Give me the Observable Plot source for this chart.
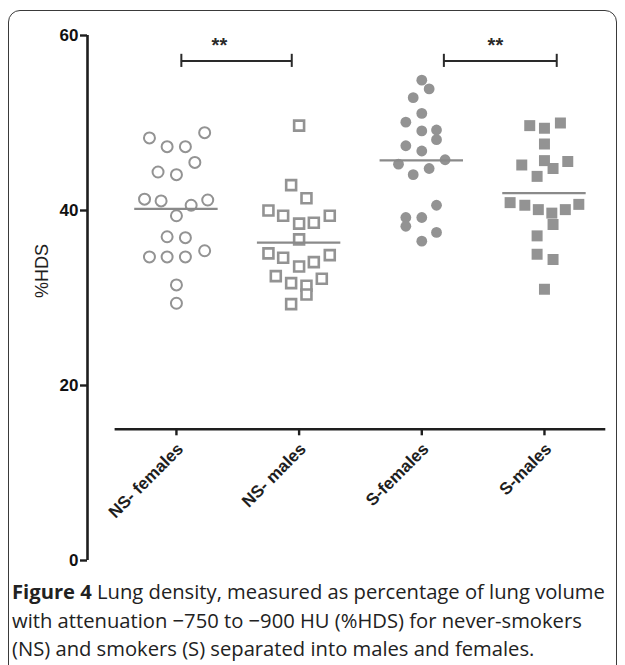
<!DOCTYPE html>
<html>
<head>
<meta charset="utf-8">
<script src="https://cdn.jsdelivr.net/npm/d3@7"></script>
<script src="https://cdn.jsdelivr.net/npm/@observablehq/plot@0.6"></script>
<style>
  html, body { margin: 0; padding: 0; background: #fff; }
  #frame { position: absolute; left: 8px; top: 10px; width: 609px; height: 720px;
           border: 1.5px solid #3a3a3a; border-radius: 12px; box-sizing: border-box; }
  #chart { position: absolute; left: 0; top: 0; }
  #caption { position: absolute; left: 12px; top: 577px; width: 604px; white-space: nowrap;
             font-family: "Open Sans", Lato, sans-serif; font-size: 20.2px; line-height: 28.5px; color: #222; }
  #caption b { font-weight: 700; }
</style>
</head>
<body>
<div id="frame"></div>
<div id="chart"></div>
<div id="caption"><b>Figure 4</b> Lung density, measured as percentage of lung volume<br>with attenuation &minus;750 to &minus;900 HU (%HDS) for never-smokers<br>(NS) and smokers (S) separated into males and females.</div>
<script>
// ---- data ----
const categories = ["NS- females", "NS- males", "S-females", "S-males"];
const yTicks = [0, 20, 40, 60];
const yLabel = "%HDS";

const nsFemales = [48.9, 48.3, 47.3, 47.3, 45.5, 44.4, 44.1, 41.3, 41.1, 40.6, 41.2, 39.4, 37.0, 36.9, 34.7, 34.7, 34.7, 35.4, 31.5, 29.4];
const nsFemalesJitter = [0.23, -0.22, -0.076, 0.073, 0.15, -0.15, 0, -0.26, -0.125, 0.12, 0.255, 0, -0.076, 0.073, -0.22, -0.076, 0.073, 0.23, 0, 0];

const nsMales = [49.7, 42.9, 41.4, 40.0, 39.4, 38.5, 38.6, 39.4, 36.7, 35.1, 34.6, 33.6, 34.1, 34.9, 32.5, 31.7, 31.4, 32.2, 30.4, 29.3];
const nsMalesJitter = [0, -0.065, 0.06, -0.25, -0.13, 0, 0.12, 0.25, 0, -0.25, -0.13, 0, 0.12, 0.25, -0.19, -0.065, 0.06, 0.185, 0.06, -0.065];

const sFemales = [54.9, 53.9, 52.9, 51.1, 50.1, 49.1, 49.2, 48.1, 47.4, 46.8, 45.3, 45.8, 44.1, 44.8, 40.6, 39.2, 39.2, 38.2, 37.5, 36.5];
const sFemalesJitter = [0, 0.06, -0.07, 0, -0.13, 0, 0.12, 0.12, -0.13, 0, -0.19, 0.19, -0.07, 0.06, 0.12, -0.13, 0, -0.13, 0.12, 0];

const sMales = [49.7, 49.4, 50.0, 47.6, 45.2, 45.7, 44.8, 45.6, 43.9, 40.9, 40.6, 40.1, 39.7, 40.1, 40.7, 38.4, 37.1, 35.0, 34.4, 31.0];
const sMalesJitter = [-0.12, 0, 0.13, 0, -0.185, 0, 0.07, 0.19, -0.06, -0.28, -0.16, -0.05, 0.06, 0.17, 0.28, 0.07, -0.06, -0.06, 0.07, 0];

// significance comparisons: bracket span (in category units) and label
const sigLabels = ["**", "**"];
const sigFrom = [0.04, 2.18];
const sigTo = [0.94, 3.10];
const sigLabelAt = [0.35, 2.6];
const sigLevel = 57.1;

// ---- build tables ----
const groups = [nsFemales, nsMales, sFemales, sMales];
const jitters = [nsFemalesJitter, nsMalesJitter, sFemalesJitter, sMalesJitter];
const points = groups.flatMap((vals, g) => vals.map((v, i) => ({g, x: g + jitters[g][i], y: v})));
const means = groups.map((vals, g) => ({g, mean: d3.mean(vals)}));
const sig = sigLabels.map((s, i) => ({label: s, x1: sigFrom[i], x2: sigTo[i], xl: sigLabelAt[i]}));

const ink = "#1e1e1e";
const gray = "#939393";
const axisY0 = 15; // value where the category axis sits
const xMin = -0.725;

const byGroup = g => points.filter(d => d.g === g);

const chart = Plot.plot({
  width: 625,
  height: 576,
  marginLeft: 87,
  marginRight: 19.7,
  marginTop: 35,
  marginBottom: 16,
  style: {fontFamily: "'Liberation Sans', Arial, sans-serif", background: "transparent"},
  x: {domain: [xMin, 3.5], axis: null},
  y: {domain: [0, 60], axis: null},
  marks: [
    // y axis line
    Plot.ruleX([xMin], {y1: 0, y2: 60, stroke: ink, strokeWidth: 2.6}),
    Plot.axisY({ticks: yTicks, tickSize: 7, tickFormat: () => "", stroke: ink, strokeWidth: 2.4, label: null}),
    Plot.text(yTicks, {x: xMin, y: d => d, text: d => String(d), textAnchor: "end", dx: -9,
                       fontSize: 17, fontWeight: 700, fill: "#111"}),
    Plot.text([yLabel], {frameAnchor: "left", rotate: -90, dx: -45, fontSize: 18, fill: ink}),
    // category axis
    Plot.ruleY([axisY0], {x1: -0.5, x2: 3.5, stroke: ink, strokeWidth: 2.6}),
    Plot.ruleX(categories, {x: (d, i) => i, y1: axisY0, y2: axisY0 - 0.75, stroke: ink, strokeWidth: 2.4}),
    Plot.text(categories, {x: (d, i) => i, y: axisY0, rotate: -45, textAnchor: "end", dx: 4, dy: 17,
                           fontSize: 17, fontWeight: "bold", fill: ink}),
    // points
    Plot.dot(byGroup(0), {x: "x", y: "y", symbol: "circle", r: 5.5, stroke: gray, strokeWidth: 2, fill: "white"}),
    Plot.dot(byGroup(1), {x: "x", y: "y", symbol: "square", r: 5.6, stroke: gray, strokeWidth: 2.6, fill: "white"}),
    Plot.dot(byGroup(2), {x: "x", y: "y", symbol: "circle", r: 5.4, fill: gray, stroke: "none"}),
    Plot.dot(byGroup(3), {x: "x", y: "y", symbol: "square", r: 6.2, fill: gray, stroke: "none"}),
    // mean lines
    Plot.ruleY(means, {y: "mean", x1: d => d.g - 0.34, x2: d => d.g + 0.34, stroke: "#8a8a8a", strokeWidth: 2.2}),
    // significance brackets
    Plot.ruleY(sig, {y: sigLevel, x1: "x1", x2: "x2", stroke: "#2a2a2a", strokeWidth: 2}),
    Plot.ruleX(sig, {x: "x1", y1: sigLevel - 0.75, y2: sigLevel + 0.75, stroke: "#2a2a2a", strokeWidth: 2}),
    Plot.ruleX(sig, {x: "x2", y1: sigLevel - 0.75, y2: sigLevel + 0.75, stroke: "#2a2a2a", strokeWidth: 2}),
    Plot.text(sig, {x: "xl", y: sigLevel, text: "label", dy: -15, fontSize: 20, fontWeight: "bold", fill: "#2a2a2a"})
  ]
});
document.getElementById("chart").appendChild(chart);
</script>
</body>
</html>
